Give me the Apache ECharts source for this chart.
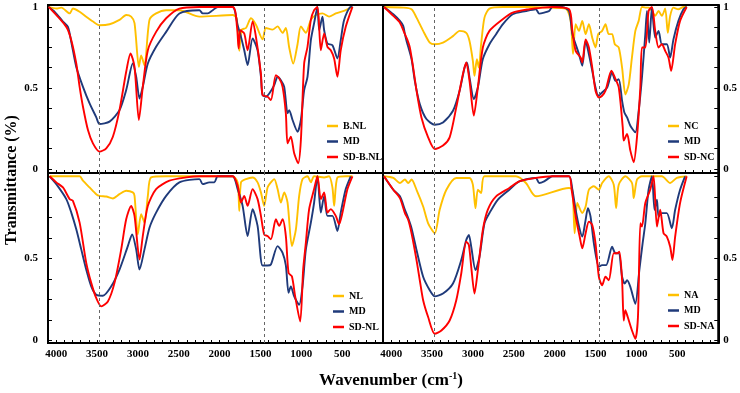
<!DOCTYPE html>
<html><head><meta charset="utf-8">
<script src="https://cdn.jsdelivr.net/npm/echarts@6/dist/echarts.min.js"></script>
<style>html,body{margin:0;padding:0;background:#fff}#c{width:740px;height:393px}</style>
</head><body><div id="c"></div>
<script>
// ---- axis labels / markers ----
const xTickLabels = [4000, 3500, 3000, 2500, 2000, 1500, 1000, 500];
const yTickLabelsTop = [0, 0.5, 1];
const yTickLabelsBottom = [0, 0.5];
const markerLines = [3470, 1450];

// ---- panel 1 (top-left) ----
const BNL = [[4092,1.0],[3998,0.99],[3937,0.996],[3835,0.96],[3795,0.99],[3713,0.97],[3632,0.94],[3550,0.91],[3469,0.887],[3347,0.893],[3225,0.92],[3143,0.95],[3082,0.94],[3041,0.90],[2988,0.63],[2960,0.70],[2919,0.64],[2858,0.92],[2777,0.96],[2654,0.98],[2492,0.98],[2247,0.94],[1840,0.95],[1791,0.93],[1759,0.73],[1730,0.86],[1677,0.87],[1616,0.93],[1555,0.89],[1474,0.80],[1433,0.87],[1352,0.86],[1290,0.88],[1229,0.84],[1189,0.87],[1148,0.75],[1099,0.65],[1046,0.77],[1005,0.88],[944,0.84],[883,0.92],[822,0.95],[741,0.96],[660,0.94],[578,0.96],[456,0.98],[374,1.0]];
const MD_BNL = [[4092,1.0],[4018,0.97],[3917,0.91],[3856,0.877],[3815,0.784],[3754,0.63],[3672,0.507],[3591,0.405],[3510,0.32],[3469,0.277],[3347,0.292],[3225,0.363],[3143,0.487],[3062,0.651],[3021,0.569],[2980,0.435],[2940,0.507],[2878,0.651],[2777,0.754],[2654,0.846],[2492,0.96],[2247,0.98],[2207,0.96],[2145,0.96],[2084,0.98],[2023,1.0],[1840,1.0],[1779,0.887],[1738,0.815],[1698,0.733],[1657,0.641],[1596,0.805],[1535,0.733],[1494,0.569],[1474,0.456],[1433,0.446],[1392,0.466],[1331,0.517],[1290,0.569],[1250,0.548],[1209,0.507],[1168,0.343],[1148,0.363],[1107,0.302],[1046,0.23],[1005,0.302],[965,0.487],[924,0.569],[883,0.795],[843,0.90],[802,1.0],[781,0.856],[741,0.94],[720,0.856],[680,0.774],[619,0.764],[558,0.682],[517,0.795],[476,0.92],[395,1.0],[374,1.0]];
const SD_BNL = [[4092,1.0],[3876,0.877],[3815,0.795],[3754,0.651],[3713,0.507],[3672,0.384],[3611,0.24],[3550,0.158],[3469,0.107],[3387,0.127],[3306,0.199],[3225,0.363],[3143,0.60],[3090,0.713],[3041,0.63],[2988,0.302],[2940,0.507],[2878,0.733],[2777,0.846],[2654,0.93],[2492,0.99],[2247,1.0],[1840,1.0],[1787,0.877],[1767,0.743],[1747,0.856],[1698,0.836],[1657,0.733],[1596,0.91],[1555,0.815],[1494,0.589],[1474,0.456],[1413,0.446],[1372,0.425],[1311,0.579],[1270,0.559],[1229,0.507],[1189,0.343],[1168,0.158],[1128,0.199],[1087,0.097],[1038,0.035],[1005,0.179],[965,0.651],[924,0.754],[883,0.92],[843,0.98],[802,1.0],[761,0.733],[720,0.836],[680,0.754],[639,0.733],[598,0.682],[558,0.569],[517,0.733],[456,0.877],[374,1.0]];

// ---- panel 2 (top-right) ----
const NC = [[4088,1.0],[3853,0.996],[3751,0.986],[3690,0.934],[3609,0.852],[3528,0.78],[3467,0.77],[3366,0.78],[3244,0.82],[3163,0.852],[3082,0.84],[3042,0.79],[3001,0.667],[2981,0.575],[2952,0.678],[2928,0.626],[2900,0.77],[2859,0.934],[2798,0.99],[2636,1.0],[2312,1.0],[2068,0.996],[1866,0.99],[1805,0.914],[1776,0.71],[1744,0.893],[1703,0.852],[1663,0.914],[1622,0.832],[1582,0.893],[1541,0.81],[1501,0.75],[1468,0.832],[1420,0.852],[1379,0.893],[1339,0.832],[1298,0.832],[1265,0.77],[1217,0.75],[1176,0.626],[1136,0.46],[1095,0.52],[1055,0.69],[1014,0.852],[973,0.914],[933,1.0],[892,0.996],[852,0.996],[811,0.975],[771,0.945],[730,0.975],[690,0.945],[649,0.99],[617,0.84],[588,0.945],[548,0.996],[487,0.986],[426,1.0],[386,1.0]];
const MD_NC = [[4088,1.0],[3974,0.955],[3893,0.914],[3853,0.883],[3832,0.832],[3812,0.79],[3751,0.678],[3711,0.544],[3650,0.40],[3569,0.308],[3467,0.273],[3366,0.287],[3244,0.359],[3163,0.483],[3102,0.626],[3074,0.657],[3042,0.565],[2989,0.431],[2940,0.503],[2879,0.678],[2798,0.77],[2717,0.832],[2636,0.893],[2514,0.955],[2352,0.975],[2231,0.986],[2190,0.959],[2129,0.965],[2068,0.975],[2028,1.0],[1906,1.0],[1825,0.975],[1784,0.832],[1744,0.77],[1703,0.708],[1663,0.637],[1622,0.79],[1582,0.708],[1541,0.606],[1501,0.503],[1468,0.452],[1420,0.472],[1359,0.503],[1298,0.595],[1257,0.544],[1217,0.554],[1176,0.421],[1148,0.349],[1115,0.318],[1075,0.267],[1014,0.226],[973,0.359],[933,0.565],[892,0.832],[872,0.975],[844,0.78],[811,0.996],[771,0.811],[730,0.852],[690,0.77],[629,0.77],[588,0.688],[548,0.80],[487,0.914],[426,0.986],[386,1.0]];
const SD_NC = [[4088,1.0],[3974,0.945],[3893,0.903],[3832,0.832],[3804,0.80],[3772,0.75],[3731,0.626],[3690,0.483],[3630,0.318],[3548,0.195],[3467,0.123],[3366,0.144],[3285,0.195],[3204,0.38],[3123,0.585],[3082,0.657],[3042,0.544],[2989,0.329],[2940,0.503],[2879,0.75],[2798,0.852],[2636,0.924],[2514,0.965],[2312,0.986],[2150,0.996],[2028,1.0],[1825,0.986],[1784,0.852],[1744,0.729],[1683,0.688],[1663,0.657],[1622,0.80],[1582,0.75],[1541,0.626],[1501,0.483],[1460,0.441],[1420,0.452],[1379,0.483],[1306,0.606],[1265,0.565],[1217,0.503],[1168,0.257],[1156,0.175],[1115,0.216],[1075,0.113],[1034,0.041],[994,0.195],[953,0.503],[933,0.75],[892,0.75],[852,0.975],[811,1.0],[771,0.852],[730,0.75],[690,0.77],[649,0.729],[609,0.688],[576,0.606],[527,0.77],[467,0.914],[386,1.0]];

// ---- panel 3 (bottom-left) ----
const NL = [[4080,1.0],[3876,1.0],[3713,1.0],[3672,0.973],[3591,0.932],[3510,0.891],[3469,0.881],[3387,0.877],[3306,0.865],[3225,0.891],[3143,0.912],[3062,0.902],[3041,0.881],[3001,0.646],[2960,0.769],[2919,0.718],[2878,0.881],[2838,0.993],[2654,1.0],[1840,1.0],[1779,0.963],[1759,0.789],[1738,0.963],[1677,0.983],[1596,0.993],[1535,0.963],[1494,0.902],[1454,0.82],[1413,0.932],[1372,0.963],[1331,0.983],[1290,0.922],[1250,0.84],[1209,0.902],[1168,0.84],[1115,0.575],[1066,0.677],[1026,0.881],[985,0.983],[924,1.0],[883,0.963],[843,1.0],[720,0.993],[660,1.0],[619,0.932],[598,0.82],[558,0.993],[456,1.0],[374,1.0]];
const MD_NL = [[4080,1.0],[3998,0.952],[3876,0.861],[3815,0.779],[3754,0.677],[3693,0.555],[3632,0.432],[3571,0.33],[3510,0.279],[3428,0.273],[3326,0.33],[3225,0.432],[3123,0.575],[3070,0.646],[3021,0.555],[2980,0.432],[2919,0.555],[2858,0.687],[2777,0.779],[2654,0.881],[2492,0.963],[2247,0.983],[2207,0.952],[2125,0.963],[2064,0.963],[2023,1.0],[1840,1.0],[1779,0.922],[1718,0.82],[1657,0.636],[1596,0.80],[1535,0.698],[1474,0.457],[1413,0.457],[1372,0.463],[1290,0.575],[1229,0.534],[1189,0.457],[1156,0.29],[1128,0.33],[1087,0.269],[1026,0.218],[985,0.33],[944,0.555],[883,0.718],[843,0.84],[802,1.0],[761,0.779],[720,0.881],[680,0.759],[619,0.759],[558,0.667],[517,0.779],[456,0.922],[395,1.0]];
const SD_NL = [[4080,1.0],[3998,0.963],[3917,0.932],[3835,0.861],[3795,0.851],[3713,0.718],[3632,0.473],[3571,0.351],[3510,0.259],[3448,0.208],[3367,0.238],[3286,0.351],[3204,0.555],[3143,0.738],[3082,0.82],[3041,0.759],[2980,0.493],[2940,0.636],[2878,0.82],[2777,0.922],[2614,0.973],[2410,0.993],[2247,1.0],[1840,1.0],[1779,0.942],[1738,0.84],[1698,0.881],[1657,0.82],[1596,0.922],[1535,0.861],[1494,0.759],[1454,0.646],[1413,0.636],[1372,0.616],[1311,0.738],[1270,0.698],[1229,0.738],[1189,0.636],[1156,0.412],[1115,0.391],[1075,0.269],[1014,0.116],[977,0.432],[944,0.596],[904,0.80],[843,0.922],[802,1.0],[761,0.861],[720,0.902],[680,0.779],[639,0.80],[578,0.759],[537,0.708],[496,0.779],[435,0.922],[374,1.0]];

// ---- panel 4 (bottom-right) ----
const NA = [[4088,1.0],[3974,0.99],[3893,0.959],[3832,0.98],[3792,0.959],[3751,0.98],[3690,0.918],[3609,0.816],[3548,0.714],[3467,0.653],[3407,0.796],[3325,0.918],[3204,0.99],[3042,0.99],[3001,0.949],[2969,0.806],[2940,0.918],[2900,0.898],[2859,1.0],[2474,1.0],[2352,0.959],[2231,0.878],[1825,0.929],[1784,0.918],[1756,0.653],[1724,0.837],[1663,0.776],[1622,0.816],[1582,0.918],[1521,0.939],[1460,0.918],[1420,0.959],[1339,1.0],[1278,0.949],[1249,0.806],[1217,0.949],[1136,1.0],[1055,0.959],[1034,0.867],[994,0.98],[933,1.0],[690,1.0],[588,0.959],[507,0.99],[386,1.0]];
const MD_NA = [[4088,1.0],[3974,0.918],[3893,0.878],[3832,0.796],[3792,0.745],[3751,0.684],[3690,0.551],[3609,0.388],[3528,0.306],[3467,0.269],[3366,0.286],[3244,0.347],[3143,0.49],[3082,0.612],[3050,0.643],[3021,0.571],[2969,0.429],[2920,0.51],[2859,0.714],[2798,0.776],[2697,0.857],[2555,0.918],[2433,0.969],[2231,0.99],[2190,0.959],[2129,0.969],[2068,0.99],[2028,1.0],[1825,1.0],[1784,0.918],[1744,0.796],[1703,0.694],[1663,0.633],[1622,0.735],[1594,0.806],[1562,0.755],[1521,0.592],[1460,0.449],[1420,0.459],[1371,0.459],[1298,0.571],[1257,0.531],[1217,0.531],[1176,0.388],[1144,0.347],[1115,0.367],[1075,0.327],[1014,0.224],[965,0.429],[925,0.592],[892,0.714],[852,0.918],[811,1.0],[779,0.796],[750,0.857],[730,0.755],[690,0.776],[629,0.776],[568,0.684],[527,0.796],[467,0.918],[406,1.0]];
const SD_NA = [[4088,1.0],[3974,0.918],[3893,0.867],[3832,0.776],[3792,0.735],[3751,0.653],[3690,0.49],[3650,0.367],[3609,0.245],[3548,0.143],[3467,0.041],[3386,0.061],[3285,0.122],[3204,0.245],[3143,0.408],[3082,0.602],[3050,0.582],[3021,0.449],[2981,0.286],[2940,0.429],[2879,0.673],[2819,0.796],[2717,0.878],[2555,0.929],[2433,0.969],[2231,0.99],[2028,1.0],[1825,1.0],[1793,0.918],[1744,0.755],[1695,0.633],[1663,0.561],[1622,0.653],[1582,0.724],[1541,0.704],[1501,0.592],[1460,0.388],[1420,0.337],[1379,0.388],[1339,0.367],[1278,0.531],[1237,0.531],[1209,0.541],[1176,0.367],[1156,0.122],[1136,0.184],[1107,0.143],[1055,0.061],[1014,0.01],[982,0.143],[953,0.714],[933,0.694],[892,0.837],[832,0.918],[791,1.0],[750,0.694],[710,0.796],[669,0.653],[629,0.633],[588,0.571],[560,0.49],[527,0.633],[467,0.837],[386,1.0]];

const COLORS = ['#FFC000', '#1F3A7A', '#FF0000'];
const FONT = '"Liberation Serif", "Times New Roman", serif';

const panels = [
  {left:48, top:5, width:335, height:168, ymin:-0.025, ymax:1.012, side:'left', xl:false, yl:yTickLabelsTop, names:['B.NL','MD','SD-B.NL'], data:[BNL, MD_BNL, SD_BNL], lg:{left:327, top:120}},
  {left:383, top:5, width:337, height:168, ymin:-0.025, ymax:1.012, side:'right', xl:false, yl:yTickLabelsTop, names:['NC','MD','SD-NC'], data:[NC, MD_NC, SD_NC], lg:{left:668, top:120}},
  {left:48, top:173, width:335, height:170, ymin:-0.015, ymax:1.02, side:'left', xl:true, yl:yTickLabelsBottom, names:['NL','MD','SD-NL'], data:[NL, MD_NL, SD_NL], lg:{left:333, top:290}},
  {left:383, top:173, width:337, height:170, ymin:-0.015, ymax:1.02, side:'right', xl:true, yl:yTickLabelsBottom, names:['NA','MD','SD-NA'], data:[NA, MD_NA, SD_NA], lg:{left:668, top:289}}
];

const xTicks = []; for (let v = 100; v <= 4100; v += 100) xTicks.push(v);
const yTicks = []; for (let v = 0; v <= 1.0001; v += 0.125) yTicks.push(+v.toFixed(3));

const grid = [], xAxis = [], yAxis = [], series = [], legend = [];
panels.forEach((p, i) => {
  grid.push({left:p.left, top:p.top, width:p.width, height:p.height, show:true, borderColor:'#000', borderWidth:2, backgroundColor:'transparent', containLabel:false});
  xAxis.push({type:'value', gridIndex:i, min:0, max:4100, inverse:true,
    axisLine:{show:true, onZero:false, lineStyle:{color:'#000', width:2}},
    axisTick:{show:true, inside:true, length:3, customValues:xTicks, lineStyle:{color:'#000', width:1}},
    axisLabel:{show:p.xl, customValues:xTickLabels, formatter:v => String(v), fontFamily:FONT, fontWeight:'bold', fontSize:11, color:'#000', margin:6},
    splitLine:{show:false}});
  yAxis.push({type:'value', gridIndex:i, min:p.ymin, max:p.ymax, position:p.side,
    axisLine:{show:true, onZero:false, lineStyle:{color:'#000', width:2}},
    axisTick:{show:true, inside:true, length:4, customValues:yTicks, lineStyle:{color:'#000', width:1}},
    axisLabel:{show:true, customValues:p.yl, formatter:v => String(v), fontFamily:FONT, fontWeight:'bold', fontSize:11, color:'#000', margin: p.side === 'left' ? 10 : 5},
    splitLine:{show:false}});
  p.data.forEach((d, k) => {
    const s = {type:'line', name:p.names[k], xAxisIndex:i, yAxisIndex:i, data:d, showSymbol:false, symbol:'none',
      smooth:0.25, lineStyle:{width:1.9, color:COLORS[k]}, itemStyle:{color:COLORS[k]}, z:2 + k, animation:false};
    if (k === 0) {
      s.markLine = {silent:true, symbol:['none','none'], label:{show:false},
        lineStyle:{type:[3,3], color:'#666', width:1}, data:markerLines.map(v => ({xAxis:v}))};
    }
    series.push(s);
  });
  legend.push({data:p.names, orient:'vertical', left:p.lg.left, top:p.lg.top, icon:'rect', itemWidth:11, itemHeight:2.5, itemGap:3.5, padding:0, selectedMode:false,
    textStyle:{fontFamily:FONT, fontWeight:'bold', fontSize:10, color:'#000', lineHeight:12}});
});

const chart = echarts.init(document.getElementById('c'), null, {renderer:'canvas'});
chart.setOption({
  animation:false,
  backgroundColor:'#fff',
  grid, xAxis, yAxis, series, legend,
  graphic:[
    {type:'text', x:12, y:180, rotation:Math.PI/2, style:{text:'Transmittance (%)', font:'bold 16px ' + FONT, fill:'#000', align:'center', verticalAlign:'middle'}},
    {type:'text', x:391, y:381, style:{text:'{a|Wavenumber (cm}{b|-1}{a|)}', align:'center', verticalAlign:'middle', fill:'#000',
      rich:{a:{font:'bold 17px ' + FONT, fill:'#000', lineHeight:20}, b:{font:'bold 10px ' + FONT, fill:'#000', lineHeight:20, padding:[0,0,9,0]}}}}
  ]
});
</script>
</body></html>
